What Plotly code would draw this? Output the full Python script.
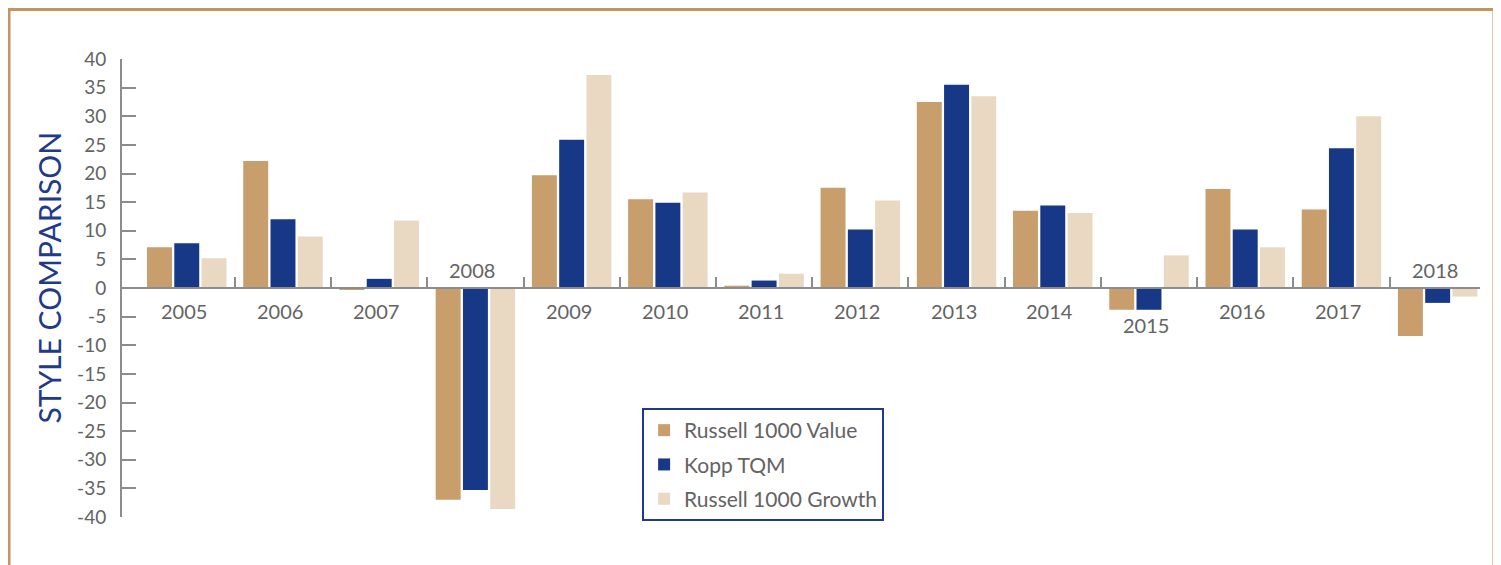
import plotly.graph_objects as go

# ---- data ----
YEARS = ["2005", "2006", "2007", "2008", "2009", "2010", "2011",
         "2012", "2013", "2014", "2015", "2016", "2017", "2018"]
RUSSELL_VALUE = [7.1, 22.2, -0.2, -37.0, 19.7, 15.5, 0.4,
                 17.5, 32.5, 13.5, -3.8, 17.3, 13.7, -8.4]
KOPP_TQM = [7.8, 12.0, 1.6, -35.3, 25.9, 14.9, 1.3,
            10.2, 35.5, 14.4, -3.8, 10.2, 24.4, -2.6]
RUSSELL_GROWTH = [5.2, 9.0, 11.8, -38.6, 37.2, 16.7, 2.5,
                  15.3, 33.5, 13.1, 5.7, 7.1, 30.0, -1.5]
SERIES_NAMES = ["Russell 1000 Value", "Kopp TQM", "Russell 1000 Growth"]
Y_TICKS = [40, 35, 30, 25, 20, 15, 10, 5, 0, -5, -10, -15, -20, -25, -30, -35, -40]
Y_TICK_LABELS = ["40", "35", "30", "25", "20", "15", "10", "5", "0",
                 "-5", "-10", "-15", "-20", "-25", "-30", "-35", "-40"]
Y_TITLE = "STYLE COMPARISON"

# ---- style ----
COLORS = ["#C89E6D", "#163887", "#E9D9C3"]
GRAY = "#636363"
AXIS_GRAY = "#8C8C8C"
NAVY = "#1F3A8A"
GOLD = "#C4955E"
FONT = "Lato, 'Open Sans', sans-serif"

x_pos = list(range(len(YEARS)))
y_min, y_max = -40, 40

fig = go.Figure()
for name, vals, col in zip(SERIES_NAMES, [RUSSELL_VALUE, KOPP_TQM, RUSSELL_GROWTH], COLORS):
    fig.add_trace(go.Bar(
        x=x_pos, y=vals, name=name, marker=dict(color=col, line=dict(width=0)),
        legendgroup=name,
    ))

# category labels placed near the bars
series = [RUSSELL_VALUE, KOPP_TQM, RUSSELL_GROWTH]
for i, yr in enumerate(YEARS):
    vals = [s[i] for s in series]
    lo, hi = min(vals), max(vals)
    if hi <= 0:
        yv, shift = 0, 18
    elif lo < -1:
        yv, shift = lo, -15
    else:
        yv, shift = 0, -23
    fig.add_annotation(x=i, y=yv, text=yr, showarrow=False, xshift=-3, yshift=shift,
                       xref="x", yref="y", yanchor="middle",
                       font=dict(family=FONT, size=20, color=GRAY))

# rotated axis title
fig.add_annotation(x=-0.054, y=0.522, xref="paper", yref="paper", text=Y_TITLE,
                   textangle=-90, showarrow=False, xanchor="center", yanchor="middle",
                   font=dict(family=FONT, size=30, color=NAVY))

# outer frame
fig.add_shape(type="rect", xref="paper", yref="paper",
              x0=-0.0832, x1=1.0103, y0=-0.3, y1=1.108,
              line=dict(color=GOLD, width=3), fillcolor="rgba(0,0,0,0)", layer="below")

fig.update_layout(
    width=1493, height=557,
    margin=dict(l=114, r=21, t=51, b=48),
    plot_bgcolor="white", paper_bgcolor="white",
    barmode="group", bargap=0.15, bargroupgap=0.085,
    font=dict(family=FONT, color=GRAY),
    showlegend=True,
    legend=dict(
        x=0.383, y=0.238, xanchor="left", yanchor="top",
        bordercolor=NAVY, borderwidth=2, bgcolor="white",
        font=dict(family=FONT, size=21, color=GRAY),
        tracegroupgap=4, traceorder="grouped",
    ),
    xaxis=dict(
        range=[-0.673, 13.44], tickvals=[i + 0.5 for i in x_pos[:-1]],
        showticklabels=False, ticks="inside", ticklen=10, tickwidth=2,
        tickcolor=AXIS_GRAY, showline=True, linecolor=AXIS_GRAY, linewidth=2,
        showgrid=False, zeroline=False,
        anchor="free", position=(0 - y_min) / (y_max - y_min),
    ),
    yaxis=dict(
        range=[y_min, y_max], tickvals=Y_TICKS, ticktext=Y_TICK_LABELS,
        ticks="inside", ticklen=14, tickwidth=2, tickcolor=AXIS_GRAY,
        showline=True, linecolor=AXIS_GRAY, linewidth=2,
        showgrid=False, zeroline=False,
        tickfont=dict(family=FONT, size=19, color=GRAY),
        ticklabelstandoff=10,
    ),
)

fig.write_html("out.html")
